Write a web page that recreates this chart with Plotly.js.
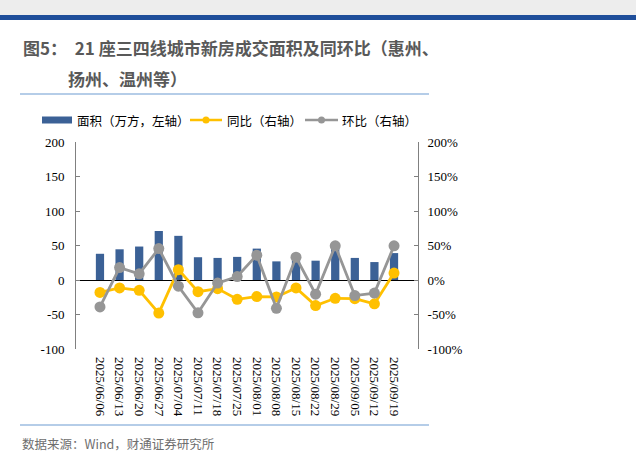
<!DOCTYPE html>
<html>
<head>
<meta charset="utf-8">
<script src="https://cdn.plot.ly/plotly-3.0.1.min.js"></script>
<style>
  html, body { margin: 0; padding: 0; background: #fff; }
  #chart { width: 636px; height: 462px; }
</style>
</head>
<body>
<div id="chart"></div>
<script>
    'use strict';

    // weekly dates (category axis)
    var dates = ['2025/06/06', '2025/06/13', '2025/06/20', '2025/06/27', '2025/07/04', '2025/07/11',
        '2025/07/18', '2025/07/25', '2025/08/01', '2025/08/08', '2025/08/15', '2025/08/22',
        '2025/08/29', '2025/09/05', '2025/09/12', '2025/09/19'];

    // 面积 (万方), left axis
    var area = [38, 44.5, 48.5, 71, 64, 33, 32, 33.5, 45.5, 27, 32, 28, 47, 32, 26, 39];

    // 同比 / 环比, right axis, in %
    var yoy = [-18, -11.5, -15, -48, 15, -17, -12.5, -28, -24, -24.5, -11.5, -37, -26.5, -27, -34.5, 10];
    var mom = [-39, 18, 9, 45.5, -9, -47.5, -4.5, 5, 36, -41, 33, -20.5, 49.5, -22.5, -19, 49.5];

    var leftTicks = [-100, -50, 0, 50, 100, 150, 200];
    var rightTicks = [-100, -50, 0, 50, 100, 150, 200];
    var rightTickText = rightTicks.map(function (v) { return v + '%'; });

    var seriesNames = ['面积（万方，左轴）', '同比（右轴）', '环比（右轴）'];
    var seriesColors = ['#3B6196', '#FFC000', '#969696'];

    var cjk = '"Noto Sans CJK SC", "Noto Sans", sans-serif';
    var serif = '"Liberation Serif", "DejaVu Serif", serif';

    var data = [
        {
            x: dates,
            y: area,
            type: 'bar',
            name: seriesNames[0],
            marker: { color: seriesColors[0] },
            width: 0.42,
            yaxis: 'y'
        },
        {
            x: dates,
            y: yoy,
            type: 'scatter',
            mode: 'lines+markers',
            name: seriesNames[1],
            line: { color: seriesColors[1], width: 2.8 },
            marker: { color: seriesColors[1], size: 11 },
            yaxis: 'y2'
        },
        {
            x: dates,
            y: mom,
            type: 'scatter',
            mode: 'lines+markers',
            name: seriesNames[2],
            line: { color: seriesColors[2], width: 2.8 },
            marker: { color: seriesColors[2], size: 11 },
            yaxis: 'y2'
        }
    ];

    // page geometry in pixels, turned into paper fractions for the decorations
    var plotW = 636 - 76 - 218, plotH = 462 - 142 - 113;
    function px(x) { return (x - 76) / plotW; }
    function py(y) { return (462 - 113 - y) / plotH; }

    var shapes = [
        // header band and blue rule
        { type: 'rect', xref: 'paper', yref: 'paper', x0: px(0), x1: px(636), y0: py(0), y1: py(15),
          fillcolor: '#EDEDED', line: { width: 0 }, layer: 'below' },
        { type: 'rect', xref: 'paper', yref: 'paper', x0: px(0), x1: px(636), y0: py(15), y1: py(20),
          fillcolor: '#1F4E9A', line: { width: 0 } },
        // thin rules under the title and above the source
        { type: 'line', xref: 'paper', yref: 'paper', x0: px(20), x1: px(429), y0: py(94), y1: py(94),
          line: { color: '#6C9BD2', width: 1.2 } },
        { type: 'line', xref: 'paper', yref: 'paper', x0: px(20), x1: px(429), y0: py(425), y1: py(425),
          line: { color: '#6C9BD2', width: 1.2 } }
    ];

    var annotations = [
        { text: '图5：  21 座三四线城市新房成交面积及同环比（惠州、', xref: 'paper', yref: 'paper',
          x: px(21), y: py(33), xanchor: 'left', yanchor: 'top', showarrow: false,
          font: { family: cjk, size: 17, color: '#595959', weight: 'bold' } },
        { text: '扬州、温州等）', xref: 'paper', yref: 'paper',
          x: px(66), y: py(64), xanchor: 'left', yanchor: 'top', showarrow: false,
          font: { family: cjk, size: 17, color: '#595959', weight: 'bold' } },
        { text: '数据来源：Wind，财通证券研究所', xref: 'paper', yref: 'paper',
          x: px(20), y: py(443), xanchor: 'left', yanchor: 'middle', showarrow: false,
          font: { family: cjk, size: 12.5, color: '#6E6E6E' } }
    ];

    // hand-drawn legend row (wide bar key like the original)
    var legY = 120;
    shapes.push({ type: 'rect', xref: 'paper', yref: 'paper', x0: px(42), x1: px(72), y0: py(legY - 3.5), y1: py(legY + 3.5),
        fillcolor: seriesColors[0], line: { width: 0 } });
    [[190, 222], [305, 338]].forEach(function (seg, i) {
        var c = seriesColors[i + 1];
        shapes.push({ type: 'line', xref: 'paper', yref: 'paper', x0: px(seg[0]), x1: px(seg[1]), y0: py(legY), y1: py(legY),
            line: { color: c, width: 2.5 } });
        var mid = (seg[0] + seg[1]) / 2;
        shapes.push({ type: 'circle', xref: 'paper', yref: 'paper', x0: px(mid - 3.5), x1: px(mid + 3.5),
            y0: py(legY - 3.5), y1: py(legY + 3.5), fillcolor: c, line: { width: 0 } });
    });
    [75, 225, 340].forEach(function (x, i) {
        annotations.push({ text: seriesNames[i], xref: 'paper', yref: 'paper', x: px(x), y: py(legY),
            xanchor: 'left', yanchor: 'middle', showarrow: false,
            font: { family: cjk, size: 12.5, color: '#000' } });
    });

    var layout = {
        width: 636,
        height: 462,
        paper_bgcolor: '#fff',
        plot_bgcolor: '#fff',
        margin: { l: 76, r: 218, t: 142, b: 113 },
        showlegend: false,
        xaxis: {
            type: 'category',
            tickangle: 90,
            tickfont: { family: serif, size: 13, color: '#000' },
            showline: false,
            showgrid: false,
            zeroline: false,
            ticks: '',
            ticklabelstandoff: 7
        },
        yaxis: {
            range: [-100, 200],
            tickvals: leftTicks,
            ticktext: leftTicks.map(String),
            tickfont: { family: serif, size: 13, color: '#000' },
            showline: true,
            linecolor: '#808080',
            linewidth: 1,
            ticks: 'inside',
            ticklen: 4,
            tickcolor: '#808080',
            showgrid: false,
            zeroline: true,
            zerolinecolor: '#000',
            zerolinewidth: 1,
            ticklabelstandoff: 8
        },
        yaxis2: {
            overlaying: 'y',
            side: 'right',
            range: [-100, 200],
            tickvals: rightTicks,
            ticktext: rightTickText,
            tickfont: { family: serif, size: 13, color: '#000' },
            showline: true,
            linecolor: '#808080',
            linewidth: 1,
            ticks: 'inside',
            ticklen: 4,
            tickcolor: '#808080',
            showgrid: false,
            zeroline: false,
            ticklabelstandoff: 6
        },
        shapes: shapes,
        annotations: annotations
    };

    Plotly.newPlot('chart', data, layout, { displayModeBar: false, staticPlot: true });
</script>
</body>
</html>
